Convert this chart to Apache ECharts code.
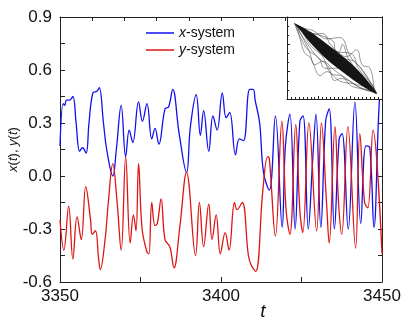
<!DOCTYPE html>
<html>
<head>
<meta charset="utf-8">
<script src="https://cdn.jsdelivr.net/npm/echarts@6/dist/echarts.min.js"></script>
<style>
  html, body { margin: 0; padding: 0; background: #fff; }
  #chart { width: 407px; height: 323px; }
</style>
</head>
<body>
<div id="chart"></div>
<script>
// x-system: time points and values (peaks / troughs)
const tX = [3350, 3351, 3351.5, 3352, 3353, 3354, 3355, 3356.1, 3357, 3358.1, 3359, 3360.2, 3361.5, 3362.2,
  3363.5, 3364.5, 3366.4, 3367.5, 3369, 3370.4, 3371.5, 3372.6, 3374.4, 3375.6, 3377, 3378.5, 3379.5, 3380.7,
  3382.6, 3383.7, 3385, 3387, 3389.3, 3390.5, 3392.3, 3393.6, 3394.6, 3396.2, 3397.5, 3398.8, 3400.4, 3401.6,
  3402.7, 3404.5, 3405.7, 3407, 3408.9, 3410, 3410.6, 3412, 3413.2, 3415, 3416.9, 3419, 3420, 3421.4, 3423,
  3424.5, 3425.5, 3427.1, 3428.5, 3429.5, 3431, 3432.5, 3433.6, 3435.2, 3436.7, 3437.6, 3439.5, 3441.6, 3443.4,
  3445, 3446.2, 3447.5, 3449.2, 3450];
const xSys = [0.17, 0.41, 0.40, 0.43, 0.43, 0.45, 0.30, 0.14, 0.16, 0.13, 0.30, 0.47, 0.48, 0.50,
  0.30, 0.15, 0.00, 0.15, 0.40, 0.11, 0.26, 0.19, 0.42, 0.31, 0.41, 0.21, 0.27, 0.18,
  0.38, 0.39, 0.49, 0.24, 0.02, 0.28, 0.46, 0.23, 0.37, 0.14, 0.34, 0.26, 0.47, 0.33,
  0.36, 0.12, 0.21, 0.20, 0.49, 0.49, 0.43, 0.30, 0.02, -0.08, 0.34, -0.29, 0.17, 0.35, -0.30,
  0.31, 0.34, -0.30, 0.10, 0.35, -0.29, 0.31, 0.38, -0.30, 0.21, 0.24, -0.30, 0.42, -0.27,
  0.17, 0.16, -0.29, 0.43, 0.46];

// y-system
const tY = [3350, 3351.2, 3352.7, 3354, 3355.3, 3356.6, 3358, 3359.5, 3360, 3361, 3362, 3362.5, 3364, 3365,
  3366.4, 3367.7, 3369, 3370.4, 3371.8, 3372.8, 3373.6, 3374.4, 3375.5, 3377, 3377.6, 3378.5, 3379.5, 3380.2,
  3381.4, 3382.6, 3384.1, 3385.4, 3387.2, 3389.3, 3392.1, 3393.3, 3394.6, 3396.2, 3397.2, 3398.5, 3399.8,
  3401.3, 3402.5, 3404.2, 3405, 3406.6, 3408.5, 3409.5, 3410.8, 3413, 3414.5, 3415, 3416.9, 3418.9, 3420.2,
  3421.4, 3423.2, 3424.5, 3425.4, 3427.3, 3429.7, 3431.2, 3432.8, 3433.6, 3435.4, 3436.5, 3437.5, 3439.4,
  3441.8, 3443.1, 3444.6, 3445.6, 3447.2, 3450];
const ySys = [-0.25, -0.42, -0.17, -0.47, -0.23, -0.36, -0.06, -0.25, -0.33, -0.31, -0.47, -0.53, -0.36, -0.15,
  0.07, -0.14, -0.42, 0.11, -0.38, -0.22, -0.31, 0.07, -0.30, -0.43, -0.44, -0.15, -0.28, -0.27,
  -0.13, -0.36, -0.40, -0.52, -0.29, 0.02, -0.45, -0.15, -0.40, -0.16, -0.36, -0.22, -0.44,
  -0.32, -0.42, -0.15, -0.19, -0.15, -0.45, -0.51, -0.54, -0.08, 0.11, 0.10, -0.34, 0.31, -0.19,
  -0.33, 0.29, -0.20, -0.32, 0.30, -0.31, 0.30, -0.16, -0.38, 0.28, -0.15, -0.33, 0.28,
  -0.41, 0.24, -0.15, -0.18, 0.26, -0.44];

// inset phase portrait (x horizontal, y vertical, both shown on a 0..1.2 scale)
const insetCore = [[0.09,1.11],[0.30,0.98],[0.55,0.76],[0.80,0.53],[1.00,0.29],[1.135,0.075],
  [0.95,0.19],[0.72,0.38],[0.50,0.58],[0.28,0.84],[0.16,1.02]];
const insetPts = [
  [0.09,1.11],[0.2,1.04],[0.33,1.0],[0.5,0.88],[0.67,0.9],[0.8,0.62],[0.95,0.42],[1.13,0.08],
  [1.0,0.17],[0.85,0.22],[0.67,0.26],[0.5,0.4],[0.42,0.34],[0.3,0.6],[0.22,0.68],[0.16,0.9],[0.1,1.09],
  [0.25,0.98],[0.4,0.88],[0.6,0.72],[0.75,0.62],[0.88,0.72],[0.95,0.5],[1.05,0.45],[1.1,0.12],
  [0.92,0.17],[0.75,0.3],[0.6,0.42],[0.45,0.55],[0.35,0.5],[0.28,0.7],[0.12,1.07],
  [0.3,0.94],[0.5,0.78],[0.65,0.68],[0.7,0.8],[0.78,0.58],[0.98,0.3],[1.12,0.1],
  [0.9,0.16],[0.8,0.2],[0.7,0.33],[0.55,0.38],[0.45,0.62],[0.3,0.78],[0.2,0.96],[0.11,1.08],
  [0.35,0.95],[0.45,0.96],[0.55,0.8],[0.72,0.6],[0.85,0.55],[1.0,0.35],[1.13,0.09],
  [0.95,0.15],[0.68,0.3],[0.6,0.27],[0.52,0.48],[0.38,0.62],[0.25,0.82],[0.14,1.02],
  [0.3,0.97],[0.58,0.85],[0.62,0.7],[0.82,0.66],[0.9,0.45],[1.08,0.2],[1.12,0.1],
  [0.85,0.3],[0.65,0.45],[0.48,0.45],[0.4,0.6],[0.24,0.75],[0.12,1.05]];

const FONT = "Liberation Sans";
const AX = "#222";

var chart = echarts.init(document.getElementById("chart"), null, { renderer: "canvas" });

const frame = { show: true, onZero: false, lineStyle: { color: AX, width: 1 } };

const opt = {
  animation: false,
  textStyle: { fontFamily: FONT },
  legend: {
    left: 141,
    top: 21,
    orient: "vertical",
    icon: "rect",
    itemWidth: 28,
    itemHeight: 1.5,
    itemGap: 3,
    data: ["x-system", "y-system"],
    formatter: (n) => (n === "x-system" ? "{i|x}-system" : "{i|y}-system"),
    textStyle: {
      fontSize: 14, color: "#111", fontFamily: FONT,
      rich: { i: { fontStyle: "italic", fontSize: 14, fontFamily: FONT } },
    },
  },
  grid: [
    { left: 60, right: 25, top: 17, bottom: 41, outerBoundsMode: "none", containLabel: false },
    { left: 287, top: 17, width: 95, height: 82, show: true, backgroundColor: "#fff", borderWidth: 0, z: 10,
      outerBoundsMode: "none", containLabel: false },
  ],
  xAxis: [
    {
      gridIndex: 0, type: "value", min: 3350, max: 3450, interval: 50,
      axisLine: frame,
      axisTick: { inside: true, length: 5, lineStyle: { color: AX } },
      minorTick: { show: true, splitNumber: 2, length: 5, lineStyle: { color: AX } },
      splitLine: { show: false },
      axisLabel: { fontSize: 17, color: "#111", margin: 6, formatter: (v) => String(v) },
      name: "{i|t}", nameLocation: "middle", nameGap: 20, nameMoveOverlap: false,
      nameTextStyle: {
        padding: [0, 0, 0, 84],
        rich: { i: { fontStyle: "italic", fontSize: 19, color: "#111", fontFamily: FONT } },
      },
    },
    {
      gridIndex: 0, type: "value", position: "top", min: 3350, max: 3450, interval: 10,
      axisLine: frame,
      axisTick: { inside: true, length: 4, lineStyle: { color: AX } },
      axisLabel: { show: false }, splitLine: { show: false },
    },
    {
      gridIndex: 1, type: "value", min: 0, max: 1.2, interval: 0.4, z: 11,
      axisLine: frame,
      axisTick: { inside: true, length: 3, lineStyle: { color: AX } },
      minorTick: { show: true, splitNumber: 8, length: 2, lineStyle: { color: AX } },
      axisLabel: { show: false }, splitLine: { show: false },
    },
    {
      gridIndex: 1, type: "value", position: "top", min: 0, max: 1.2, interval: 0.4, z: 11,
      axisLine: frame,
      axisTick: { inside: true, length: 3, lineStyle: { color: AX } },
      axisLabel: { show: false }, splitLine: { show: false },
    },
  ],
  yAxis: [
    {
      gridIndex: 0, type: "value", min: -0.6, max: 0.9, interval: 0.3,
      axisLine: frame,
      axisTick: { inside: true, length: 5, lineStyle: { color: AX } },
      minorTick: { show: true, splitNumber: 2, length: 5, lineStyle: { color: AX } },
      splitLine: { show: false },
      axisLabel: { fontSize: 17, color: "#111", margin: 8, formatter: (v) => v.toFixed(1) },
      name: "{i|x}({i|t}), {i|y}({i|t})", nameLocation: "middle", nameGap: 40, nameMoveOverlap: false,
      nameTextStyle: {
        fontSize: 13, color: "#111",
        rich: { i: { fontStyle: "italic", fontSize: 13, color: "#111", fontFamily: FONT } },
      },
    },
    {
      gridIndex: 0, type: "value", position: "right", min: -0.6, max: 0.9, interval: 0.3,
      axisLine: frame,
      axisTick: { inside: true, length: 4, lineStyle: { color: AX } },
      minorTick: { show: true, splitNumber: 2, length: 4, lineStyle: { color: AX } },
      axisLabel: { show: false }, splitLine: { show: false },
    },
    {
      gridIndex: 1, type: "value", min: 0, max: 1.2, interval: 0.4, z: 11,
      axisLine: frame,
      axisTick: { inside: true, length: 3, lineStyle: { color: AX } },
      minorTick: { show: true, splitNumber: 3, length: 2, lineStyle: { color: AX } },
      axisLabel: { show: false }, splitLine: { show: false },
    },
    {
      gridIndex: 1, type: "value", position: "right", min: 0, max: 1.2, interval: 0.4, z: 11,
      axisLine: frame,
      axisTick: { inside: true, length: 3, lineStyle: { color: AX } },
      axisLabel: { show: false }, splitLine: { show: false },
    },
  ],
  series: [
    {
      name: "x-system", type: "line", xAxisIndex: 0, yAxisIndex: 0,
      data: tX.map((t, i) => [t, xSys[i]]),
      smooth: 0.4, symbol: "none", color: "#1010ee",
      lineStyle: { width: 1.3, color: "#1010ee" },
    },
    {
      name: "y-system", type: "line", xAxisIndex: 0, yAxisIndex: 0,
      data: tY.map((t, i) => [t, ySys[i]]),
      smooth: 0.4, symbol: "none", color: "#dd1515",
      lineStyle: { width: 1.3, color: "#dd1515" },
    },
    {
      name: "phase", type: "line", xAxisIndex: 2, yAxisIndex: 2, z: 12,
      data: insetPts, smooth: 0.4, symbol: "none",
      lineStyle: { width: 0.5, color: "#333" },
    },
    {
      name: "core", type: "custom", xAxisIndex: 2, yAxisIndex: 2, z: 13,
      data: [0],
      renderItem: (params, api) => ({
        type: "polygon",
        shape: { points: insetCore.map((p) => api.coord(p)), smooth: 0.3 },
        style: { fill: "#151515" },
      }),
    },
  ],
};
chart.setOption(opt);
</script>
</body>
</html>
